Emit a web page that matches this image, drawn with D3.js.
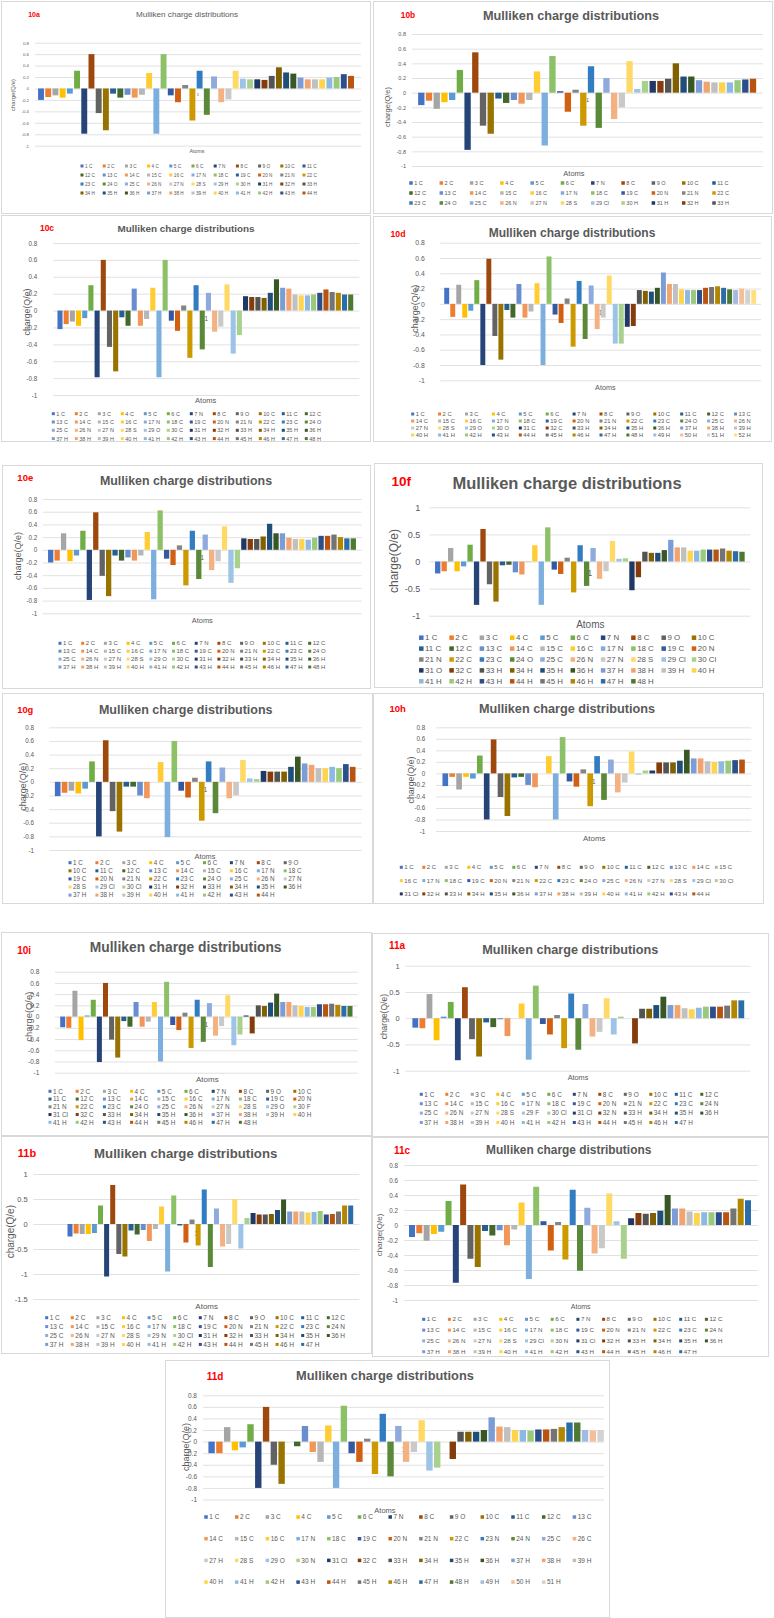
<!DOCTYPE html>
<html><head><meta charset="utf-8">
<script src="https://cdn.jsdelivr.net/npm/d3@7"></script>
<style>body{margin:0;background:#fff}svg{display:block}</style>
</head><body>
<svg id="fig" width="774" height="1618"></svg>
<script>
// ---------- DATA ----------
const head28O = ["1 C","2 C","3 C","4 C","5 C","6 C","7 N","8 C","9 O","10 C","11 C","12 C","13 C","14 C","15 C","16 C","17 N","18 C","19 C","20 N","21 N","22 C","23 C","24 O","25 C","26 N","27 N","28 S"];
const head28N = ["1 C","2 C","3 C","4 C","5 C","6 C","7 N","8 C","9 O","10 C","11 C","12 C","13 C","14 C","15 C","16 C","17 N","18 C","19 C","20 N","21 N","22 C","23 C","24 N","25 C","26 N","27 N","28 S"];
const head22 = head28O.slice(0, 22);
const hs = (a, b) => d3.range(a, b + 1).map(i => i + " H");

const atoms10a = [...head28O, ...hs(29, 44)];
const atoms10b = [...head28O, "29 Cl", ...hs(30, 44)];
const atoms10c = [...head28O, "29 O", "30 C", ...hs(31, 48)];
const atoms10d = [...head28O, "29 O", "30 O", "31 C", "32 C", ...hs(33, 52)];
const atoms10e = [...head28O, "29 O", "30 C", ...hs(31, 48)];
const atoms10f = [...head28O, "29 Cl", "30 Cl", "31 O", "32 C", ...hs(33, 48)];
const atoms10g = [...head28O, "29 Cl", "30 Cl", ...hs(31, 44)];
const atoms10h = [...head28O, "29 Cl", "30 Cl", "31 Cl", ...hs(32, 44)];
const atoms10i = [...head28O, "29 O", "30 F", "31 Cl", "32 C", ...hs(33, 48)];
const atoms11a = [...head28N, "29 F", "30 Cl", "31 Cl", "32 N", ...hs(33, 47)];
const atoms11b = [...head28N, "29 N", "30 Cl", ...hs(31, 47)];
const atoms11c = [...head28N, "29 Cl", "30 N", "31 Cl", ...hs(32, 47)];
const atoms11d = [...head22, "23 N", "24 N", "25 C", "26 C", "27 H", "28 S", "29 O", "30 N", "31 Cl", "32 C", ...hs(33, 51)];

const q10a = [-0.20,-0.15,-0.12,-0.16,-0.09,0.31,-0.79,0.60,-0.43,-0.73,-0.09,-0.16,-0.11,-0.16,-0.11,0.27,-0.79,0.60,-0.12,-0.24,0.06,-0.56,0.31,-0.46,0.21,-0.24,-0.19,0.31,0.17,0.16,0.16,0.15,0.22,0.37,0.28,0.26,0.19,0.16,0.16,0.16,0.19,0.20,0.25,0.22];
const q10b = [-0.17,-0.11,-0.22,-0.13,-0.10,0.31,-0.78,0.55,-0.45,-0.56,-0.08,-0.14,-0.10,-0.15,-0.10,0.29,-0.72,0.50,0.02,-0.26,0.04,-0.45,0.36,-0.48,0.20,-0.36,-0.20,0.43,0.05,0.16,0.16,0.16,0.19,0.40,0.22,0.22,0.17,0.15,0.14,0.14,0.14,0.17,0.18,0.19];
const q10c = [-0.22,-0.16,-0.13,-0.18,-0.09,0.30,-0.79,0.60,-0.43,-0.72,-0.08,-0.18,0.26,-0.18,-0.10,0.27,-0.79,0.60,-0.12,-0.24,0.06,-0.56,0.30,-0.46,0.21,-0.25,-0.19,0.31,-0.51,-0.29,0.17,0.16,0.16,0.15,0.21,0.37,0.27,0.26,0.19,0.18,0.18,0.19,0.21,0.25,0.22,0.21,0.19,0.19];
const q10d = [0.21,-0.17,0.25,-0.18,-0.09,0.31,-0.80,0.59,-0.42,-0.73,-0.08,-0.18,0.26,-0.18,-0.10,0.27,-0.80,0.62,-0.14,-0.25,0.07,-0.56,0.30,-0.46,0.24,-0.33,-0.18,0.37,-0.52,-0.52,-0.30,-0.29,0.18,0.17,0.16,0.21,0.41,0.26,0.26,0.19,0.18,0.18,0.18,0.21,0.22,0.23,0.21,0.19,0.18,0.20,0.18,0.18];
const q10e = [-0.20,-0.17,0.26,-0.18,-0.09,0.30,-0.79,0.59,-0.41,-0.73,-0.09,-0.17,-0.12,-0.17,-0.09,0.28,-0.78,0.62,-0.14,-0.24,0.07,-0.56,0.30,-0.46,0.24,-0.32,-0.18,0.37,-0.52,-0.29,0.18,0.17,0.17,0.21,0.41,0.26,0.26,0.19,0.17,0.17,0.16,0.19,0.22,0.22,0.24,0.20,0.18,0.18];
const q10f = [-0.22,-0.18,0.25,-0.18,-0.09,0.31,-0.80,0.60,-0.42,-0.74,-0.07,-0.06,-0.20,-0.24,-0.01,0.30,-0.80,0.63,-0.15,-0.23,0.07,-0.57,0.30,-0.45,0.25,-0.32,-0.18,0.38,0.05,0.06,-0.53,-0.29,0.18,0.16,0.16,0.21,0.40,0.26,0.26,0.20,0.20,0.22,0.22,0.22,0.24,0.20,0.19,0.18];
const q10g = [-0.21,-0.16,-0.13,-0.17,-0.10,0.30,-0.80,0.61,-0.43,-0.73,-0.07,-0.07,-0.20,-0.24,0,0.29,-0.81,0.60,-0.13,-0.23,0.06,-0.57,0.30,-0.46,0.21,-0.24,-0.20,0.32,0.05,0.04,0.16,0.15,0.15,0.15,0.22,0.37,0.27,0.25,0.20,0.20,0.22,0.20,0.26,0.22];
const q10h = [-0.22,-0.06,-0.28,-0.06,-0.09,0.31,-0.80,0.59,-0.41,-0.74,-0.07,-0.06,-0.20,-0.24,0,0.30,-0.80,0.63,-0.14,-0.23,0.07,-0.57,0.30,-0.46,0.24,-0.33,-0.16,0.38,-0.02,0.05,0.05,0.19,0.19,0.19,0.22,0.41,0.26,0.26,0.21,0.20,0.21,0.22,0.23,0.24];
const q10i = [-0.19,-0.20,0.46,-0.42,0.02,0.30,-0.81,0.60,-0.41,-0.73,-0.08,-0.18,0.26,-0.18,-0.09,0.26,-0.80,0.62,-0.15,-0.24,0.07,-0.56,0.30,-0.45,0.24,-0.34,-0.17,0.38,-0.51,-0.32,0.02,-0.30,0.20,0.19,0.25,0.41,0.26,0.26,0.20,0.19,0.17,0.17,0.22,0.22,0.23,0.21,0.19,0.19];
const q11a = [-0.18,-0.19,0.46,-0.42,0.03,0.31,-0.80,0.59,-0.40,-0.73,-0.08,-0.17,-0.02,-0.34,0,0.28,-0.79,0.62,-0.11,-0.31,0.06,-0.57,0.47,-0.60,0.27,-0.35,-0.26,0.38,-0.31,0.03,0,-0.48,0.18,0.18,0.25,0.41,0.25,0.25,0.19,0.17,0.20,0.22,0.22,0.22,0.24,0.34,0.34];
const q11b = [-0.25,-0.19,-0.20,-0.20,-0.18,0.37,-1.05,0.78,-0.60,-0.65,-0.13,-0.21,-0.12,-0.34,-0.10,0.35,-0.95,0.57,-0.03,-0.37,0.09,-0.43,0.69,-0.86,0.31,-0.45,-0.40,0.50,-0.49,0.12,0.22,0.19,0.19,0.20,0.28,0.49,0.25,0.25,0.25,0.23,0.24,0.26,0.19,0.20,0.25,0.37,0.37];
const q11c = [-0.16,-0.11,-0.21,-0.12,-0.09,0.32,-0.77,0.54,-0.45,-0.56,-0.08,-0.14,-0.07,-0.27,-0.06,0.30,-0.72,0.51,0.05,-0.34,0.04,-0.46,0.47,-0.61,0.23,-0.38,-0.31,0.42,0.05,-0.45,0.09,0.16,0.15,0.16,0.19,0.40,0.22,0.22,0.18,0.16,0.17,0.17,0.17,0.17,0.22,0.35,0.33];
const q11d = [-0.20,-0.20,0.25,-0.15,-0.10,0.30,-0.80,0.60,-0.40,-0.73,0.00,-0.08,0.27,-0.18,-0.35,0.28,-0.80,0.62,-0.20,-0.35,0.05,-0.56,0.48,-0.60,0.27,-0.35,-0.18,0.37,-0.50,-0.45,0.00,-0.30,0.17,0.17,0.17,0.20,0.42,0.26,0.25,0.20,0.20,0.19,0.21,0.21,0.22,0.25,0.33,0.33,0.20,0.19,0.20];

const ticks08 = [0.8,0.6,0.4,0.2,0,-0.2,-0.4,-0.6,-0.8,-1];
const ticks1 = [1,0.5,0,-0.5,-1];
const ticks15 = [1,0.5,0,-0.5,-1,-1.5];

const titleText = "Mulliken charge distributions";
const yTitleText = "charge(Q/e)";
const xTitleText = "Atoms";
const catLabel = "1";

// ---------- STYLE ----------
const FONT = '"Liberation Sans", Arial, sans-serif';
const TXT = "#595959";
const GRID = "#d9d9d9";
const accents = ["#4472C4","#ED7D31","#A5A5A5","#FFC000","#5B9BD5","#70AD47"];
const variants = [[1,0],[0.6,0],[0.8,0.2],[0.8,0],[0.6,0.4],[0.5,0],[0.7,0.3],[0.7,0],[0.5,0.5]];
const palette = variants.flatMap(([m, o]) => accents.map(c => { const h = d3.hsl(c); h.l = h.l * m + o; return h.formatHex(); }));

// ---------- LAYOUT ----------
const panels = [
 {tag:"10a", atoms:atoms10a, q:q10a, legN:44, box:[1,1,370,213], tg:[34,15,7], ti:[187,14,8.1,"normal"],
  ticks:ticks08, yt:42.7, yb:145.7, lx:29, tfs:4.3, gx:[35,361], bx:[41,351],
  yti:[13,95,6], xti:[197,151,5.3], lg:{x:82,y:166,dx:22.2,dy:9,cols:11,fs:4.7,ms:3}},
 {tag:"10b", atoms:atoms10b, q:q10b, legN:33, box:[373,1,772,213], tg:[408,15,8.3], ti:[571,16,12.7,"bold"],
  ticks:ticks08, yt:34, yb:166, lx:406, tfs:5.5, gx:[412,763], bx:[421.3,753],
  yti:[387,107,7.5], xti:[574,173.3,7.5], lg:{x:411,y:183,dx:30.3,dy:10,cols:11,fs:5.5,ms:3.5}},
 {tag:"10c", atoms:atoms10c, q:q10c, legN:48, box:[1,215,370,441], tg:[47,228,8.5], ti:[186,229,9.9,"bold"],
  ticks:ticks08, yt:243, yb:395, lx:37.3, tfs:6.3, gx:[53,359.3], bx:[60,350.7],
  yti:[27.3,312,8.8], xti:[205.7,400.7,7.5], lg:{x:53.3,y:413.7,dx:23,dy:8.3,cols:12,fs:5.5,ms:3}},
 {tag:"10d", atoms:atoms10d, q:q10d, legN:52, box:[373,216,771,441], tg:[398,233.7,8.7], ti:[572,232.7,12,"bold"],
  ticks:ticks08, yt:242.7, yb:380.3, lx:424.7, tfs:6.8, gx:[440.3,761], bx:[446.7,753.7],
  yti:[415.3,308.7,9], xti:[605.3,387,7.2], lg:{x:412.7,y:414,dx:26.9,dy:7,cols:13,fs:5.8,ms:3}},
 {tag:"10e", atoms:atoms10e, q:q10e, legN:48, box:[2,465,370,688], tg:[25.3,477.3,9.5], ti:[186,480.7,12.4,"bold"],
  ticks:ticks08, yt:499, yb:613.3, lx:37.3, tfs:6.3, gx:[42.7,361.7], bx:[50.7,353.3],
  yti:[18.3,556,9], xti:[202.3,620,7.4], lg:{x:60,y:643.3,dx:22.7,dy:7.9,cols:12,fs:6,ms:3}},
 {tag:"10f", atoms:atoms10f, q:q10f, legN:48, box:[374,463,762,687], tg:[401.3,481.7,13.5], ti:[567,483.3,16.5,"bold"],
  ticks:ticks1, yt:507.3, yb:615.7, lx:420.3, tfs:9, gx:[429.3,750.3], bx:[437.7,742],
  yti:[393.7,561,12], xti:[590.3,624,10], lg:{x:421.3,y:637.7,dx:30.3,dy:10.9,cols:10,fs:7.9,ms:4.5}},
 {tag:"10g", atoms:atoms10g, q:q10g, legN:44, box:[2,693,372,903], tg:[25.3,710,9.3], ti:[185.7,710,12.5,"bold"],
  ticks:ticks08, yt:727.3, yb:850, lx:34, tfs:6.3, gx:[49.3,361.7], bx:[57.7,352.7],
  yti:[23.3,786.7,9], xti:[205,856.7,7.4], lg:{x:70,y:862.7,dx:26.9,dy:8.1,cols:9,fs:6.3,ms:3}},
 {tag:"10h", atoms:atoms10h, q:q10h, legN:44, box:[373,693,763,903], tg:[397.7,709,9.5], ti:[567,709,12.7,"bold"],
  ticks:ticks08, yt:727.3, yb:831, lx:425.3, tfs:6.3, gx:[436,751.3], bx:[445.3,742],
  yti:[411.3,780,8.8], xti:[594.3,838.3,7.9], lg:{x:401.3,y:867.3,dx:22.5,dy:13.3,cols:15,fs:6,ms:3}},
 {tag:"10i", atoms:atoms10i, q:q10i, legN:48, box:[1,932,371,1135], tg:[24.2,950.7,10], ti:[185.7,946.7,13.8,"bold"],
  ticks:ticks08, yt:971.7, yb:1072.7, lx:39.3, tfs:6.5, gx:[55,357.7], bx:[62.7,350],
  yti:[28.3,1016.7,9.4], xti:[207.3,1078.7,8], lg:{x:50,y:1091.3,dx:27.2,dy:7.75,cols:10,fs:6.4,ms:3}},
 {tag:"11a", atoms:atoms11a, q:q11a, legN:47, box:[372,933,768,1136], tg:[397,945,10], ti:[570.3,950,12.7,"bold"],
  ticks:ticks1, yt:965.7, yb:1070.7, lx:399.7, tfs:7.5, gx:[405.3,750.3], bx:[415.3,741.3],
  yti:[383.7,1016.7,8.5], xti:[578,1077.7,7.3], lg:{x:421.3,y:1094.3,dx:25.5,dy:9.4,cols:12,fs:6.4,ms:3}},
 {tag:"11b", atoms:atoms11b, q:q11b, legN:47, box:[1,1136,371,1353], tg:[27,1153.3,11], ti:[185.7,1153.3,13.2,"bold"],
  ticks:ticks15, yt:1174, yb:1299, lx:27.7, tfs:7.5, gx:[33.3,359.3], bx:[70,350.7],
  yti:[10.7,1231.7,10], xti:[206.7,1306.3,8], lg:{x:46.7,y:1317.7,dx:25.6,dy:8.9,cols:12,fs:6.5,ms:3}},
 {tag:"11c", atoms:atoms11c, q:q11c, legN:47, box:[372,1137,768,1356], tg:[402,1150,10], ti:[568.7,1150,11.9,"bold"],
  ticks:ticks08, yt:1165, yb:1300, lx:398, tfs:6.3, gx:[404.3,758], bx:[412,748],
  yti:[378.7,1235,8], xti:[580.7,1306.7,7], lg:{x:423.7,y:1319.3,dx:25.7,dy:10.8,cols:12,fs:6.2,ms:3}},
 {tag:"11d", atoms:atoms11d, q:q11d, legN:51, box:[165,1360,609,1617], tg:[215,1376,10], ti:[385,1376,12.8,"bold"],
  ticks:ticks08, yt:1395.3, yb:1499.5, lx:197, tfs:6.5, gx:[203,604], bx:[211.6,600.6],
  yti:[186,1447,9], xti:[385,1510,7.5], lg:{x:206,y:1517,dx:30.7,dy:21.7,cols:13,fs:6.5,ms:3.5}}
];

// ---------- DRAW ----------
const svg = d3.select("#fig");
svg.append("rect").attr("width", 774).attr("height", 1618).attr("fill", "#fff");

function drawPanel(c) {
  const g = svg.append("g").attr("font-family", FONT);
  g.append("rect").attr("x", c.box[0] + 0.5).attr("y", c.box[1] + 0.5)
    .attr("width", c.box[2] - c.box[0]).attr("height", c.box[3] - c.box[1])
    .attr("fill", "#fff").attr("stroke", "#d9d9d9").attr("stroke-width", 1);

  const y = d3.scaleLinear().domain([c.ticks[c.ticks.length - 1], c.ticks[0]]).range([c.yb, c.yt]);

  g.append("g").attr("transform", `translate(${c.gx[0]},0)`)
    .call(d3.axisLeft(y).tickValues(c.ticks).tickSize(-(c.gx[1] - c.gx[0])).tickFormat(""))
    .call(s => { s.select(".domain").remove(); s.selectAll("line").attr("stroke", GRID).attr("stroke-width", 0.8); });

  g.append("g").attr("transform", `translate(${c.lx},0)`)
    .call(d3.axisLeft(y).tickValues(c.ticks).tickSize(0).tickPadding(0).tickFormat(d => String(d)))
    .call(s => { s.select(".domain").remove(); s.attr("font-size", c.tfs).attr("font-family", FONT).style("color", TXT); });

  g.append("text").attr("x", (c.gx[0] + c.gx[1]) / 2).attr("y", y(0) + c.tfs * 1.3)
    .attr("text-anchor", "middle").attr("dy", "0.35em").attr("font-size", c.tfs).attr("fill", TXT).text(catLabel);

  const n = c.atoms.length;
  const step = (c.bx[1] - c.bx[0]) / (n - 1);
  const x = d3.scaleBand().domain(c.atoms).range([c.bx[0] - step / 2, c.bx[1] + step / 2]).paddingInner(0.18).paddingOuter(0.09);
  g.append("g").selectAll("rect").data(c.atoms).join("rect")
    .attr("x", d => x(d)).attr("width", x.bandwidth())
    .attr("y", (d, i) => y(Math.max(0, c.q[i])))
    .attr("height", (d, i) => Math.abs(y(c.q[i]) - y(0)))
    .attr("fill", (d, i) => palette[i]);

  g.append("text").attr("x", c.tg[0]).attr("y", c.tg[1]).attr("dy", "0.35em").attr("text-anchor", "middle")
    .attr("font-size", c.tg[2]).attr("font-weight", "bold").attr("fill", "#ff0000").text(c.tag);
  g.append("text").attr("x", c.ti[0]).attr("y", c.ti[1]).attr("dy", "0.35em").attr("text-anchor", "middle")
    .attr("font-size", c.ti[2]).attr("font-weight", c.ti[3]).attr("fill", TXT).text(titleText);
  g.append("text").attr("transform", `translate(${c.yti[0]},${c.yti[1]}) rotate(-90)`).attr("dy", "0.35em")
    .attr("text-anchor", "middle").attr("font-size", c.yti[2]).attr("fill", TXT).text(yTitleText);
  g.append("text").attr("x", c.xti[0]).attr("y", c.xti[1]).attr("dy", "0.35em").attr("text-anchor", "middle")
    .attr("font-size", c.xti[2]).attr("fill", TXT).text(xTitleText);

  const L = c.lg;
  const items = g.append("g").selectAll("g").data(c.atoms.slice(0, c.legN)).join("g")
    .attr("transform", (d, i) => `translate(${L.x + (i % L.cols) * L.dx},${L.y + Math.floor(i / L.cols) * L.dy})`);
  items.append("rect").attr("x", -L.ms / 2).attr("y", -L.ms / 2).attr("width", L.ms).attr("height", L.ms)
    .attr("fill", (d, i) => palette[i]);
  items.append("text").attr("x", L.ms / 2 + 1.5).attr("dy", "0.35em").attr("font-size", L.fs).attr("fill", TXT).text(d => d);
}

panels.forEach(drawPanel);
</script>
</body></html>
